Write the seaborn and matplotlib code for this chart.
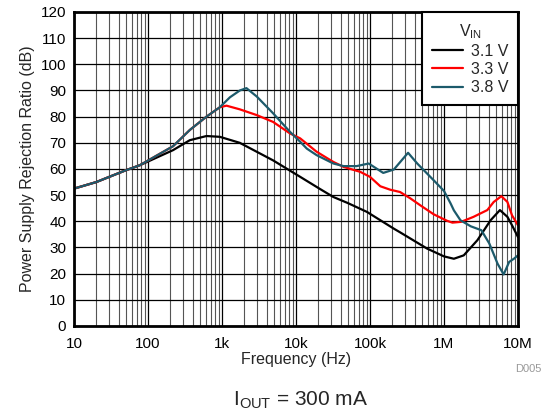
import numpy as np
import pandas as pd
import matplotlib
matplotlib.use("Agg")
import matplotlib.pyplot as plt
import seaborn as sns
from matplotlib.ticker import FixedLocator, LogLocator, NullFormatter

# Data
freq_31 = [10, 20, 30, 50, 77, 218, 367, 617, 935, 1.74e3, 4.9e3, 1.14e4, 2.1e4, 3.2e4, 5e4,
           9.1e4, 2.1e5, 2.55e5, 5.9e5, 1e6, 1.36e6, 1.85e6, 2.83e6, 4.26e6, 5.7e6, 7.2e6,
           8.3e6, 1e7]
psrr_31 = [52.5, 55, 57, 59.5, 61.4, 67.2, 71, 72.6, 72.3, 70, 63.3, 57, 52.4, 49.3, 47,
           43.6, 37.2, 35.8, 29.6, 26.6, 25.7, 27, 32.8, 40.4, 44.3, 41.7, 38.5, 34]

freq_33 = [10, 20, 30, 50, 77, 218, 367, 617, 935, 1.15e3, 1.74e3, 2.95e3, 4.9e3, 8.3e3,
           1.14e4, 1.9e4, 3.2e4, 4.4e4, 7.4e4, 1e5, 1.38e5, 1.87e5, 2.55e5, 3.5e5, 4.8e5,
           7.25e5, 1.1e6, 1.3e6, 1.7e6, 2.5e6, 3.85e6, 4.7e6, 5.96e6, 7.2e6, 8.3e6, 1e7]
psrr_33 = [52.5, 55, 57, 59.5, 61.4, 68.7, 74.9, 80, 83.6, 84.2, 82.8, 80.6, 78, 73.6,
           71.7, 66.6, 62.7, 60.8, 58.9, 57, 53.4, 52.1, 51.2, 48.8, 46.1,
           42.7, 40.2, 39.5, 39.8, 41.7, 44.3, 47.4, 49.6, 47.4, 42.3, 38.5]

freq_38 = [10, 20, 30, 50, 77, 218, 367, 617, 935, 1.28e3, 1.74e3, 2.14e3, 2.95e3, 4.9e3,
           8.3e3, 1.14e4, 1.4e4, 1.9e4, 3.2e4, 4.4e4, 6.6e4, 9.6e4, 1.51e5, 2.1e5, 3.27e5,
           4.35e5, 7.25e5, 1e6, 1.23e6, 1.36e6, 1.67e6, 2.3e6, 3.2e6, 4.1e6, 5.3e6, 6.4e6,
           7.6e6, 8.8e6, 1e7]
psrr_38 = [52.5, 55, 57, 59.5, 61.4, 68.7, 74.9, 80, 83.6, 87.4, 90, 90.9, 87.7, 81.3,
           74.2, 70.4, 67.8, 65.3, 62.1, 61.1, 61.1, 62.1, 58.5, 59.8, 66.2,
           62.1, 55.7, 51.6, 46.8, 44.2, 40.4, 38.1, 36.6, 31.5, 23.8, 19.7,
           24.5, 25.7, 27]

series_labels = ["3.1 V", "3.3 V", "3.8 V"]
colors = ["#000000", "#ff0000", "#1c5a6b"]
x_ticks = [10, 100, 1e3, 1e4, 1e5, 1e6, 1e7]
x_ticklabels = ["10", "100", "1k", "10k", "100k", "1M", "10M"]
y_ticks = list(range(0, 121, 10))

df = pd.concat([
    pd.DataFrame({"Frequency": freq_31, "PSRR": psrr_31, "VIN": series_labels[0]}),
    pd.DataFrame({"Frequency": freq_33, "PSRR": psrr_33, "VIN": series_labels[1]}),
    pd.DataFrame({"Frequency": freq_38, "PSRR": psrr_38, "VIN": series_labels[2]}),
], ignore_index=True)

sns.set_style("white")
plt.rcParams["font.family"] = ["Liberation Sans", "DejaVu Sans"]
plt.rcParams["mathtext.fontset"] = "custom"
plt.rcParams["mathtext.rm"] = "Liberation Sans"

fig = plt.figure(figsize=(5.46, 4.18), dpi=100)
ax = fig.add_axes([0.1355, 0.2201, 0.8132, 0.7512])

sns.lineplot(data=df, x="Frequency", y="PSRR", hue="VIN", palette=dict(zip(series_labels, colors)),
             linewidth=1.6, ax=ax, legend=False, sort=False, estimator=None)

ax.set_xscale("log")
ax.set_xlim(10, 1e7)
ax.set_ylim(0, 120)
ax.xaxis.set_major_locator(FixedLocator(x_ticks))
ax.set_xticklabels(x_ticklabels)
ax.xaxis.set_minor_locator(LogLocator(base=10, subs=np.arange(2, 10)))
ax.xaxis.set_minor_formatter(NullFormatter())
ax.set_yticks(y_ticks)

ax.grid(True, which="major", color="#000000", linewidth=0.9)
ax.grid(True, which="minor", axis="x", color="#555555", linewidth=0.8)
ax.set_axisbelow(True)
for s in ax.spines.values():
    s.set_linewidth(2)
    s.set_color("black")
ax.tick_params(axis="both", which="both", length=0, labelsize=11, colors="black")
ax.tick_params(axis="x", pad=8)
ax.tick_params(axis="y", pad=5.5)

ax.set_xlabel("Frequency (Hz)", fontsize=11.5, labelpad=0.5)
ax.set_ylabel("Power Supply Rejection Ratio (dB)", fontsize=11.5, labelpad=4)

handles = [plt.Line2D([0], [0], color=c, linewidth=1.6) for c in colors]
leg = ax.legend(handles, series_labels, title=r"V$_{\mathrm{IN}}$", loc="upper right",
                frameon=True, fancybox=False, fontsize=11.5, title_fontsize=11.5,
                borderaxespad=0, handlelength=1.9, handletextpad=0.5, labelspacing=0.2,
                borderpad=0.62)
leg.get_frame().set_edgecolor("black")
leg.get_frame().set_linewidth(1.5)
leg.get_frame().set_alpha(1)

fig.text(0.967, 0.118, "D005", color="#999999", fontsize=8, ha="center", va="center")
fig.text(0.55, 0.043, r"I$_{\mathrm{OUT}}$ = 300 mA", fontsize=15, ha="center", va="center")

fig.savefig("out.png", dpi=100)
